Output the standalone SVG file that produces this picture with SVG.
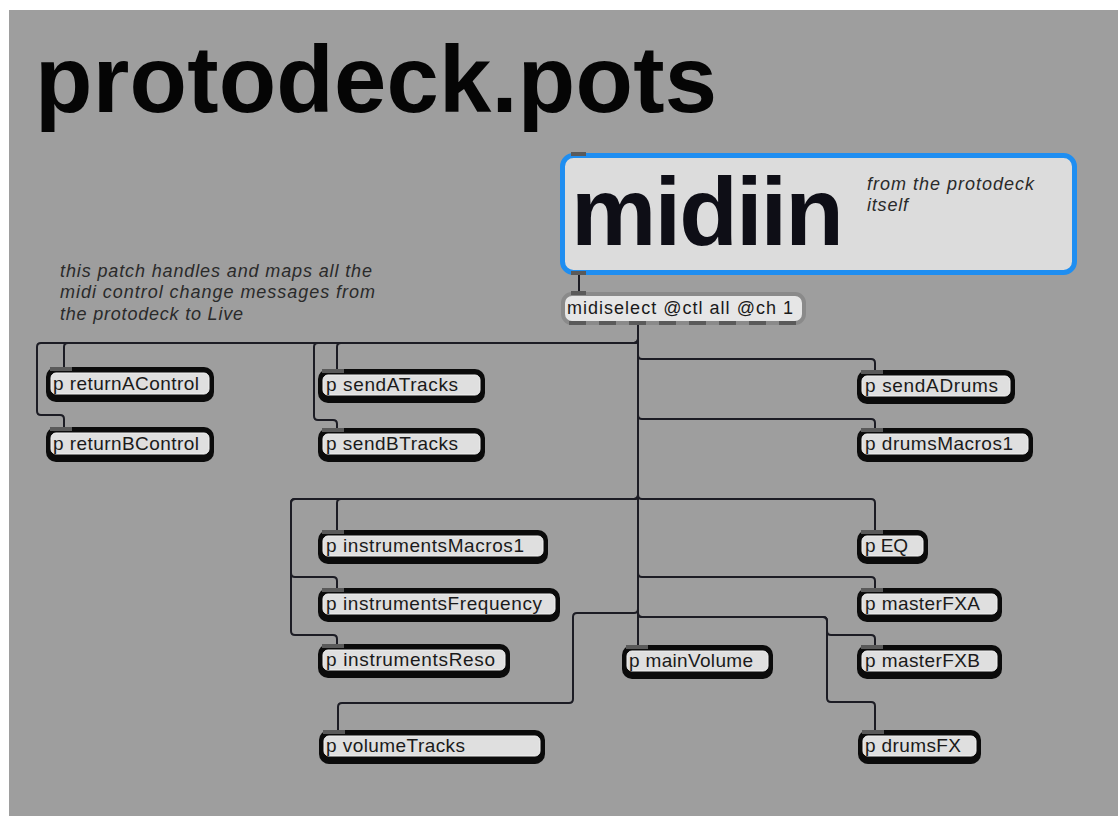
<svg xmlns="http://www.w3.org/2000/svg" width="1118" height="816" viewBox="0 0 1118 816">
<style>
.bg{fill:#9e9e9e}
.cord{fill:none;stroke:#1c1c24;stroke-width:2}
.bo{fill:#0b0b0b}
.bi{fill:#dfdfdf;stroke:#f0f0f0;stroke-width:1}
.tab{fill:#5a5a5a}
.lbl{font-family:"Liberation Sans",Arial,sans-serif;font-size:19px;fill:#1a1a1a}
.cmt{font-family:"Liberation Sans",Arial,sans-serif;font-size:18px;font-style:italic;fill:#2a2a2a}
.title{font-family:"Liberation Sans",Arial,sans-serif;font-weight:bold;font-size:94px;fill:#050505}
</style>
<rect class="bg" x="9" y="10" width="1109" height="806"/>
<text class="title" x="35" y="112" textLength="682">protodeck.pots</text>
<g id="comment-main">
<text class="cmt" x="60" y="277" textLength="312">this patch handles and maps all the</text>
<text class="cmt" x="60" y="298" textLength="315">midi control change messages from</text>
<text class="cmt" x="60" y="320" textLength="183">the protodeck to Live</text>
</g>
<g id="connectors">
<path class="cord" d="M579 275 V292"/>
<path class="cord" d="M638 325 V339 Q638 343 634 343 H68 Q64 343 64 347 V368"/>
<path class="cord" d="M638 325 V339 Q638 343 634 343 H41 Q37 343 37 347 V411 Q37 415 41 415 H60 Q64 415 64 419 V428"/>
<path class="cord" d="M638 325 V339 Q638 343 634 343 H341 Q337 343 337 347 V369"/>
<path class="cord" d="M638 325 V339 Q638 343 634 343 H318 Q314 343 314 347 V416 Q314 420 318 420 H333 Q337 420 337 424 V428"/>
<path class="cord" d="M638 325 V355 Q638 359 642 359 H871 Q875 359 875 363 V370"/>
<path class="cord" d="M638 325 V415 Q638 419 642 419 H871 Q875 419 875 423 V428"/>
<path class="cord" d="M638 325 V495 Q638 499 634 499 H341 Q337 499 337 503 V530"/>
<path class="cord" d="M638 325 V495 Q638 499 634 499 H295 Q291 499 291 503 V573 Q291 577 295 577 H333 Q337 577 337 581 V588"/>
<path class="cord" d="M638 325 V495 Q638 499 634 499 H295 Q291 499 291 503 V631 Q291 635 295 635 H333 Q337 635 337 639 V644"/>
<path class="cord" d="M638 325 V495 Q638 499 642 499 H871 Q875 499 875 503 V530"/>
<path class="cord" d="M638 325 V573 Q638 577 642 577 H871 Q875 577 875 581 V588"/>
<path class="cord" d="M638 325 V613 Q638 617 642 617 H823 Q827 617 827 621 V631 Q827 635 831 635 H871 Q875 635 875 639 V645"/>
<path class="cord" d="M638 325 V613 Q638 617 642 617 H823 Q827 617 827 621 V698 Q827 702 831 702 H871 Q875 702 875 706 V730"/>
<path class="cord" d="M638 325 V609 Q638 613 634 613 H577 Q573 613 573 617 V699 Q573 703 569 703 H342 Q338 703 338 707 V730"/>
<path class="cord" d="M638 325 V645"/>
</g>
<g id="midiin">
<rect x="562.5" y="155.5" width="512" height="117" rx="11" fill="#dcdcdc" stroke="#1f8ef1" stroke-width="5"/>
<rect class="tab" x="571" y="152" width="15" height="4"/>
<rect class="tab" x="571" y="271" width="15" height="4"/>
<text x="571" y="245" font-family="'Liberation Sans',Arial,sans-serif" font-weight="bold" font-size="96" fill="#0e0e16" textLength="273">midiin</text>
<text class="cmt" x="867" y="190" textLength="167">from the protodeck</text>
<text class="cmt" x="867" y="211" textLength="41">itself</text>
</g>
<g id="midiselect">
<rect x="563" y="294" width="241" height="29" rx="9" fill="#e6e6e6" stroke="#8a8a8a" stroke-width="4"/>
<rect class="tab" x="571" y="291" width="15" height="4"/>
<g class="tab">
<rect x="569" y="321" width="17" height="4"/><rect x="599" y="321" width="17" height="4"/><rect x="629" y="321" width="17" height="4"/><rect x="659" y="321" width="17" height="4"/><rect x="689" y="321" width="17" height="4"/><rect x="719" y="321" width="17" height="4"/><rect x="749" y="321" width="17" height="4"/><rect x="779" y="321" width="17" height="4"/>
</g>
<text x="567" y="314" font-family="'Liberation Sans',Arial,sans-serif" font-size="18" fill="#1a1a1a" textLength="226">midiselect @ctl all @ch 1</text>
</g>
<g id="returnAControl"><rect class="bo" x="46" y="367" width="168" height="35" rx="10"/><rect class="bi" x="51" y="373" width="158" height="21" rx="5"/><rect class="tab" x="50" y="367" width="22" height="4"/><text class="lbl" x="53" y="390" textLength="146">p returnAControl</text></g>
<g id="returnBControl"><rect class="bo" x="46" y="427" width="168" height="35" rx="10"/><rect class="bi" x="51" y="433" width="158" height="21" rx="5"/><rect class="tab" x="50" y="427" width="22" height="4"/><text class="lbl" x="53" y="450" textLength="146">p returnBControl</text></g>
<g id="sendATracks"><rect class="bo" x="318" y="369" width="167" height="34" rx="10"/><rect class="bi" x="323" y="375" width="157" height="20" rx="5"/><rect class="tab" x="322" y="369" width="22" height="4"/><text class="lbl" x="326" y="391" textLength="132">p sendATracks</text></g>
<g id="sendBTracks"><rect class="bo" x="318" y="428" width="167" height="34" rx="10"/><rect class="bi" x="323" y="434" width="157" height="20" rx="5"/><rect class="tab" x="322" y="428" width="22" height="4"/><text class="lbl" x="326" y="450" textLength="132">p sendBTracks</text></g>
<g id="sendADrums"><rect class="bo" x="857" y="370" width="158" height="34" rx="10"/><rect class="bi" x="862" y="376" width="148" height="20" rx="5"/><rect class="tab" x="861" y="370" width="22" height="4"/><text class="lbl" x="865" y="392" textLength="133">p sendADrums</text></g>
<g id="drumsMacros1"><rect class="bo" x="857" y="428" width="176" height="34" rx="10"/><rect class="bi" x="862" y="434" width="166" height="20" rx="5"/><rect class="tab" x="861" y="428" width="22" height="4"/><text class="lbl" x="865" y="450" textLength="148">p drumsMacros1</text></g>
<g id="instrumentsMacros1"><rect class="bo" x="318" y="530" width="230" height="34" rx="10"/><rect class="bi" x="323" y="536" width="220" height="20" rx="5"/><rect class="tab" x="322" y="530" width="22" height="4"/><text class="lbl" x="326" y="552" textLength="198">p instrumentsMacros1</text></g>
<g id="instrumentsFrequency"><rect class="bo" x="318" y="588" width="242" height="34" rx="10"/><rect class="bi" x="323" y="594" width="232" height="20" rx="5"/><rect class="tab" x="322" y="588" width="22" height="4"/><text class="lbl" x="326" y="610" textLength="216">p instrumentsFrequency</text></g>
<g id="instrumentsReso"><rect class="bo" x="318" y="644" width="192" height="34" rx="10"/><rect class="bi" x="323" y="650" width="182" height="20" rx="5"/><rect class="tab" x="322" y="644" width="22" height="4"/><text class="lbl" x="326" y="666" textLength="169">p instrumentsReso</text></g>
<g id="EQ"><rect class="bo" x="857" y="530" width="71" height="34" rx="10"/><rect class="bi" x="862" y="536" width="61" height="20" rx="5"/><rect class="tab" x="861" y="530" width="22" height="4"/><text class="lbl" x="865" y="552" textLength="43">p EQ</text></g>
<g id="masterFXA"><rect class="bo" x="857" y="588" width="145" height="34" rx="10"/><rect class="bi" x="862" y="594" width="135" height="20" rx="5"/><rect class="tab" x="861" y="588" width="22" height="4"/><text class="lbl" x="865" y="610" textLength="115">p masterFXA</text></g>
<g id="masterFXB"><rect class="bo" x="857" y="645" width="145" height="34" rx="10"/><rect class="bi" x="862" y="651" width="135" height="20" rx="5"/><rect class="tab" x="861" y="645" width="22" height="4"/><text class="lbl" x="865" y="667" textLength="115">p masterFXB</text></g>
<g id="mainVolume"><rect class="bo" x="622" y="645" width="151" height="34" rx="10"/><rect class="bi" x="627" y="651" width="141" height="20" rx="5"/><rect class="tab" x="626" y="645" width="22" height="4"/><text class="lbl" x="629" y="667" textLength="124">p mainVolume</text></g>
<g id="volumeTracks"><rect class="bo" x="319" y="730" width="226" height="34" rx="10"/><rect class="bi" x="324" y="736" width="216" height="20" rx="5"/><rect class="tab" x="323" y="730" width="22" height="4"/><text class="lbl" x="326" y="752" textLength="139">p volumeTracks</text></g>
<g id="drumsFX"><rect class="bo" x="858" y="730" width="123" height="34" rx="10"/><rect class="bi" x="863" y="736" width="113" height="20" rx="5"/><rect class="tab" x="862" y="730" width="22" height="4"/><text class="lbl" x="865" y="752" textLength="96">p drumsFX</text></g>
</svg>
